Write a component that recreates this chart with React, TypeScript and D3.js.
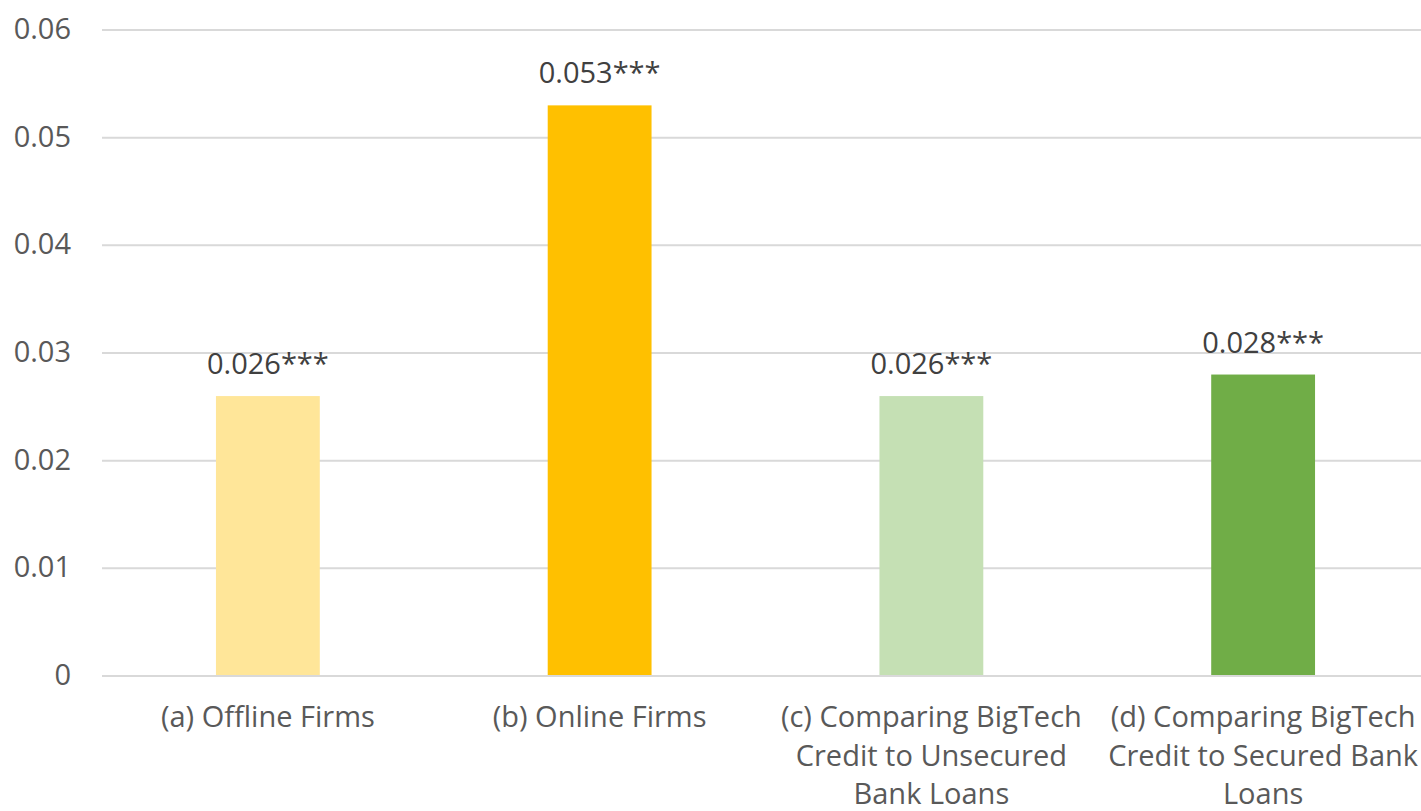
import React from "react";
import * as d3 from "d3";

const categories: string[][] = [
  ["(a) Offline Firms"],
  ["(b) Online Firms"],
  ["(c) Comparing BigTech", "Credit to Unsecured", "Bank Loans"],
  ["(d) Comparing BigTech", "Credit to Secured Bank", "Loans"],
];
const values: number[] = [0.026, 0.053, 0.026, 0.028];
const valueLabels: string[] = ["0.026***", "0.053***", "0.026***", "0.028***"];
const barColors: string[] = ["#FFE699", "#FFC000", "#C5E0B4", "#70AD47"];
const yTicks: number[] = [0, 0.01, 0.02, 0.03, 0.04, 0.05, 0.06];
const yTickLabels: string[] = ["0", "0.01", "0.02", "0.03", "0.04", "0.05", "0.06"];

const W = 1421;
const H = 811;
const FONT = "'Open Sans', sans-serif";
const FS = 29;

export default function App() {
  const x = d3
    .scaleBand<number>()
    .domain(values.map((_, i) => i))
    .range([102, 1429])
    .paddingInner(0.687)
    .paddingOuter(0.3435);
  const y = d3.scaleLinear().domain([0, 0.06]).range([676, 30]);

  return (
    <svg
      width={W}
      height={H}
      style={{ position: "absolute", left: 0, top: 0, background: "#fff" }}
    >
      {yTicks.map((t, i) => (
        <g key={"t" + i}>
          <line x1={102} x2={W} y1={y(t)} y2={y(t)} stroke="#D9D9D9" strokeWidth={2} />
          <text
            x={71}
            y={y(t) + 9}
            textAnchor="end"
            fontFamily={FONT}
            fontSize={FS}
            fill="#595959"
          >
            {yTickLabels[i]}
          </text>
        </g>
      ))}
      {values.map((v, i) => (
        <g key={"b" + i}>
          <rect
            x={x(i)!}
            y={y(v)}
            width={x.bandwidth()}
            height={y(0) - y(v) - 1}
            fill={barColors[i]}
          />
          <text
            x={x(i)! + x.bandwidth() / 2}
            y={y(v) - 22}
            textAnchor="middle"
            fontFamily={FONT}
            fontSize={FS}
            fill="#404040"
          >
            {valueLabels[i]}
          </text>
          {categories[i].map((line, j) => (
            <text
              key={j}
              x={x(i)! + x.bandwidth() / 2}
              y={727 + j * 38.5}
              textAnchor="middle"
              fontFamily={FONT}
              fontSize={FS}
              fill="#595959"
            >
              {line}
            </text>
          ))}
        </g>
      ))}
    </svg>
  );
}
